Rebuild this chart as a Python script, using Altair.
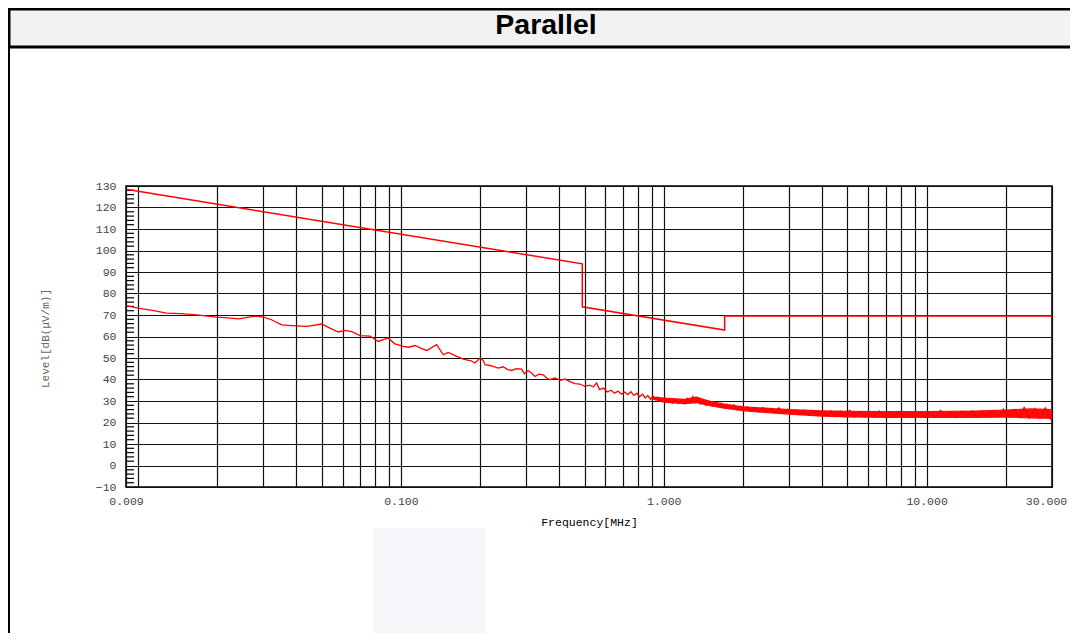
import altair as alt
import pandas as pd

# ---------------- data ----------------
limit_f = [0.009, 0.49, 0.49, 1.705, 1.705, 30.0]
limit_db = [128.5, 93.8, 73.8, 63.0, 69.5, 69.5]

trace_f = [0.009, 0.0100, 0.0115, 0.0128, 0.0145, 0.0167, 0.0199, 0.0220, 0.0241,
           0.0279, 0.0300, 0.0322, 0.0352, 0.0384, 0.0438, 0.0500, 0.0537, 0.0578,
           0.0613, 0.0650, 0.0699, 0.0763, 0.0820, 0.0895, 0.0945, 0.1020, 0.1070,
           0.1131, 0.1190, 0.1253, 0.1368, 0.1450, 0.1515, 0.1600, 0.1727, 0.1850,
           0.1913, 0.1999, 0.2057, 0.2089, 0.2200, 0.2346, 0.2450, 0.2550, 0.2638,
           0.2750, 0.2880, 0.2950, 0.3050, 0.3150, 0.3236, 0.3350, 0.3480, 0.3580,
           0.3690, 0.3850, 0.4050, 0.4210, 0.4400, 0.4590, 0.4800, 0.5010, 0.5200,
           0.5400, 0.5550]
trace_db = [74.4, 73.2, 72.0, 70.9, 70.6, 70.1, 69.0, 68.7, 68.2,
            69.5, 69.0, 67.8, 65.4, 65.1, 64.7, 65.8, 63.9, 62.1,
            62.8, 62.3, 60.4, 60.2, 57.7, 59.3, 56.7, 55.4, 55.0,
            55.8, 54.6, 53.5, 56.2, 51.5, 52.6, 51.2, 49.5, 48.7,
            47.7, 50.0, 48.9, 46.9, 46.4, 45.3, 45.9, 44.6, 44.2,
            45.0, 44.8, 42.7, 44.2, 42.9, 41.4, 42.5, 42.2, 40.8,
            39.9, 40.7, 39.6, 40.2, 39.0, 38.1, 37.9, 36.8, 37.4,
            36.6, 38.4]

noise_f = [0.57, 0.59, 0.61, 0.63, 0.65, 0.67, 0.69, 0.71, 0.73, 0.75, 0.77, 0.79,
           0.81, 0.83, 0.85, 0.87, 0.89, 0.91, 0.93, 0.95, 0.97, 0.99, 1.02, 1.05,
           1.08, 1.11, 1.14, 1.17, 1.2, 1.23, 1.26, 1.29, 1.32, 1.35, 1.38, 1.41,
           1.45, 1.49, 1.53, 1.57, 1.61, 1.65, 1.7, 1.75, 1.8, 1.85, 1.9, 1.96,
           2.02, 2.08, 2.15, 2.22, 2.3, 2.38, 2.46, 2.55, 2.64, 2.74, 2.84, 2.95,
           3.06, 3.18, 3.3, 3.43, 3.56, 3.7, 3.85, 4.0, 4.16, 4.33, 4.5, 4.7,
           4.9, 5.1, 5.3, 5.55, 5.8, 6.05, 6.3, 6.6, 6.9, 7.2, 7.5, 7.85,
           8.2, 8.6, 9.0, 9.4, 9.8, 10.3, 10.8, 11.3, 11.8, 12.4, 13.0, 13.6,
           14.2, 14.9, 15.6, 16.3, 17.1, 17.9, 18.7, 19.6, 20.5, 21.5, 22.5, 23.5,
           24.6, 25.8, 27.0, 28.3, 29.6, 30.0]
noise_db = [35.3, 36.0, 34.2, 35.0, 33.6, 34.6, 33.2, 34.2, 33.0, 34.3, 32.6, 33.6,
            32.0, 33.2, 31.4, 32.6, 30.8, 32.3, 30.6, 31.7, 29.9, 31.2, 29.5, 31.0,
            29.0, 30.8, 28.9, 30.6, 28.7, 31.2, 29.2, 32.0, 29.3, 31.5, 28.6, 30.2,
            28.0, 29.8, 27.6, 29.4, 27.3, 28.9, 26.8, 28.5, 26.5, 28.2, 26.0, 27.6,
            25.6, 27.3, 25.3, 27.0, 25.0, 26.9, 24.7, 26.5, 24.5, 26.8, 24.3, 26.2,
            24.0, 25.9, 23.8, 25.7, 23.5, 25.6, 23.3, 25.4, 23.0, 25.3, 22.8, 25.2,
            22.7, 25.6, 22.6, 25.0, 22.5, 24.9, 22.5, 25.3, 22.4, 24.9, 22.5, 25.1,
            22.4, 24.8, 22.3, 25.0, 22.5, 24.9, 22.4, 25.7, 22.5, 25.0, 22.3, 25.2,
            22.6, 25.4, 22.5, 25.5, 22.7, 25.6, 22.8, 26.2, 22.6, 26.0, 22.4, 27.0,
            22.2, 26.5, 22.0, 26.8, 21.8, 24.5]

band_f = [0.9, 1.0, 1.2, 1.33, 1.5, 1.7, 2.0, 2.5, 3.0, 4.0, 5.0, 7.0,
          10.0, 15.0, 20.0, 25.0, 30.0]
band_lo = [30.8, 29.2, 28.5, 28.9, 27.6, 26.4, 25.2, 24.3, 23.6, 22.7,
           22.3, 22.1, 22.1, 22.1, 22.2, 21.9, 21.6]
band_hi = [32.2, 31.6, 31.1, 32.1, 30.1, 28.8, 27.6, 26.9, 26.3, 25.7,
           25.5, 25.3, 25.3, 25.6, 26.1, 26.6, 26.3]

x_grid = [0.009, 0.01, 0.02, 0.03, 0.04, 0.05, 0.06, 0.07, 0.08, 0.09,
          0.1, 0.2, 0.3, 0.4, 0.5, 0.6, 0.7, 0.8, 0.9,
          1, 2, 3, 4, 5, 6, 7, 8, 9, 10, 20, 30]
x_labelled = [0.009, 0.1, 1, 10, 30]
y_ticks = [-10, 0, 10, 20, 30, 40, 50, 60, 70, 80, 90, 100, 110, 120, 130]
y_minor = [-8, -6, -4, -2, 2, 4, 6, 8, 12, 14, 16, 18, 22, 24, 26, 28, 32, 34, 36, 38,
           42, 44, 46, 48, 52, 54, 56, 58, 62, 64, 66, 68, 72, 74, 76, 78, 82, 84, 86, 88,
           92, 94, 96, 98, 102, 104, 106, 108, 112, 114, 116, 118, 122, 124, 126, 128]

title_text = "Parallel"
x_title = "Frequency[MHz]"
y_title = "Level[dB(μV/m)]"

# ---------------- tables ----------------
limit_df = pd.DataFrame({"f": limit_f, "db": limit_db, "i": range(len(limit_f))})
all_f = trace_f + noise_f
all_db = trace_db + noise_db
trace_df = pd.DataFrame({"f": all_f, "db": all_db, "i": range(len(all_f))})
band_df = pd.DataFrame({"f": band_f, "lo": band_lo, "hi": band_hi})
minor_df = pd.DataFrame({"db": y_minor})
one = pd.DataFrame({"a": [0]})

MONO = "Liberation Mono"
label_list = ",".join(str(v) for v in x_labelled)

x_scale = alt.Scale(type="log", domain=[0.009, 30], nice=False)
y_scale = alt.Scale(domain=[-10, 130], nice=False, zero=False)

x_axis = alt.Axis(values=x_grid,
                  labelExpr=f"indexof([{label_list}], datum.value) >= 0 ? format(datum.value, '.3f') : ''",
                  labelOffset={"condition": {"test": "datum.value >= 30", "value": -6}, "value": 0},
                  grid=True, gridColor="#111111", gridOpacity=1, gridWidth=1.2,
                  ticks=False, domain=False, labelFlush=False, labelOverlap=False,
                  labelFont=MONO, labelFontSize=11.5, labelColor="#444", labelPadding=8,
                  title=x_title, titleFont=MONO, titleFontSize=11.5, titleFontWeight="normal",
                  titleColor="black", titleX=463, titleY=35, titleBaseline="middle")
y_axis = alt.Axis(values=y_ticks, grid=True, gridColor="#111111", gridOpacity=1, gridWidth=1.2,
                  ticks=False, domain=False,
                  labelFont=MONO, labelFontSize=11.5, labelColor="#444", labelPadding=10,
                  title=y_title, titleFont=MONO, titleFontSize=11, titleFontWeight="normal",
                  titleColor="#666", titleX=-81, titleY=152, titleAngle=270,
                  titleBaseline="middle", titleAlign="center")

X = alt.X("f:Q", scale=x_scale, axis=x_axis)
Y = alt.Y("db:Q", scale=y_scale, axis=y_axis)

# ---------------- decorations ----------------
bar_rect = alt.Chart(one).mark_rect(fill="#f2f2f2", stroke="black", strokeWidth=3).encode(
    x=alt.value(-117), x2=alt.value(960), y=alt.value(-177), y2=alt.value(-139))
bar_text = alt.Chart(one).mark_text(text=title_text, font="Liberation Sans", fontSize=28.5,
                                     fontWeight="bold", color="black", align="center",
                                     baseline="middle").encode(
    x=alt.value(420), y=alt.value(-161))
left_border = alt.Chart(one).mark_rule(color="black", strokeWidth=2).encode(
    x=alt.value(-117), y=alt.value(-139), y2=alt.value(460))
watermark = alt.Chart(one).mark_rect(fill="#f5f6fa").encode(
    x=alt.value(248), x2=alt.value(360), y=alt.value(342), y2=alt.value(460))

# ---------------- data layers ----------------
minor = alt.Chart(minor_df).mark_rule(color="black", strokeWidth=1.2).encode(
    y=Y, x=alt.value(0), x2=alt.value(8))
band = alt.Chart(band_df).mark_area(color="#ff0000", opacity=0.95, interpolate="linear").encode(
    x=X, y=alt.Y("lo:Q", scale=y_scale, axis=y_axis), y2="hi:Q")
trace = alt.Chart(trace_df).mark_line(color="#ff0000", strokeWidth=1.3).encode(
    x=X, y=Y, order="i:Q")
limit = alt.Chart(limit_df).mark_line(color="#ff0000", strokeWidth=1.5).encode(
    x=X, y=Y, order="i:Q")

chart = alt.layer(watermark, bar_rect, bar_text, left_border, minor, band, trace, limit).properties(
    width=926, height=301,
    autosize=alt.AutoSizeParams(type="none"),
    padding={"left": 118, "top": 178, "right": 18, "bottom": 146},
).configure_view(stroke="black", strokeWidth=1.5)

chart.save("out.html", embed_options={"renderer": "svg", "actions": False})
